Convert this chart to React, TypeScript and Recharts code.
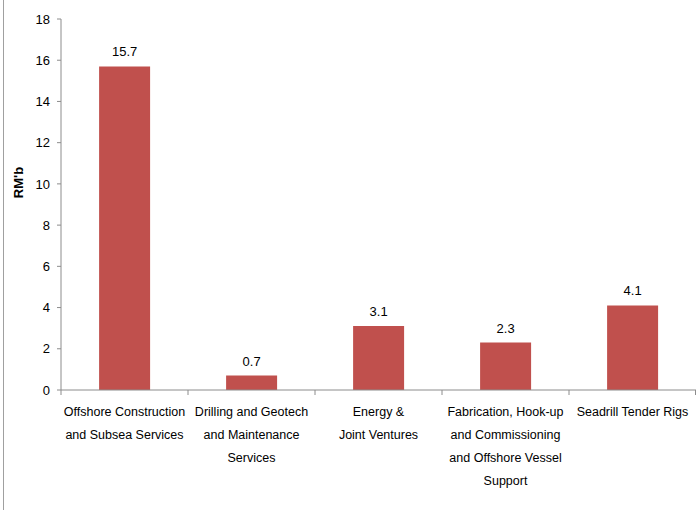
import React from "react";
import { BarChart, Bar, XAxis, YAxis, LabelList } from "recharts";

const categories = [
  "Offshore Construction\nand Subsea Services",
  "Drilling and Geotech\nand Maintenance\nServices",
  "Energy &\nJoint Ventures",
  "Fabrication, Hook-up\nand Commissioning\nand Offshore Vessel\nSupport",
  "Seadrill Tender Rigs",
];
const values = [15.7, 0.7, 3.1, 2.3, 4.1];
const yTicks = [0, 2, 4, 6, 8, 10, 12, 14, 16, 18];

const data = categories.map((name, i) => ({ name, value: values[i] }));

const W = 696;
const H = 510;
const AXIS_X = 61;
const HALF_BAND = (W - AXIS_X) / categories.length / 2;
const FONT = "'Liberation Sans', Arial, sans-serif";
const AXIS_COLOR = "#8c8c8c";

const CategoryTick = (props: any) => {
  const { x, y, payload, index } = props;
  const lines = String(payload.value).split("\n");
  return (
    <g>
      <line x1={x - HALF_BAND} y1={y - 8} x2={x - HALF_BAND} y2={y - 3} stroke={AXIS_COLOR} />
      {index === categories.length - 1 && (
        <line x1={x + HALF_BAND - 0.5} y1={y - 8} x2={x + HALF_BAND - 0.5} y2={y - 3} stroke={AXIS_COLOR} />
      )}
      <text x={x} y={y + 18} textAnchor="middle" fontSize={12.5} fontFamily={FONT} fill="#000">
        {lines.map((l, i) => (
          <tspan key={i} x={x} dy={i === 0 ? 0 : 23}>
            {l}
          </tspan>
        ))}
      </text>
    </g>
  );
};

export default function App() {
  return (
    <div style={{ position: "absolute", left: 0, top: 0, width: W, height: H, background: "#fff" }}>
      <div style={{ position: "absolute", left: 3, top: 0, width: 1, height: H, background: "#a0a0a0" }} />
      <BarChart
        width={W}
        height={H}
        data={data}
        margin={{ top: 19, right: 0, bottom: 0, left: 0 }}
        barCategoryGap="30%"
      >
        <YAxis
          width={AXIS_X}
          domain={[0, 18]}
          ticks={yTicks}
          interval={0}
          stroke={AXIS_COLOR}
          tickSize={4}
          tickMargin={7}
          tick={{ fill: "#000", fontSize: 13, fontFamily: FONT }}
          label={{
            value: "RM'b",
            angle: -90,
            position: "insideLeft",
            offset: 18,
            dy: -22,
            style: { fontWeight: "bold", fontSize: 13, fontFamily: FONT, fill: "#000", textAnchor: "middle" },
          }}
        />
        <XAxis
          dataKey="name"
          height={120}
          interval={0}
          stroke={AXIS_COLOR}
          tickLine={false}
          tick={<CategoryTick />}
        />
        <Bar dataKey="value" fill="#C0504D" isAnimationActive={false}>
          <LabelList
            dataKey="value"
            position="top"
            offset={10}
            style={{ fill: "#000", fontSize: 13, fontFamily: FONT }}
          />
        </Bar>
      </BarChart>
    </div>
  );
}
